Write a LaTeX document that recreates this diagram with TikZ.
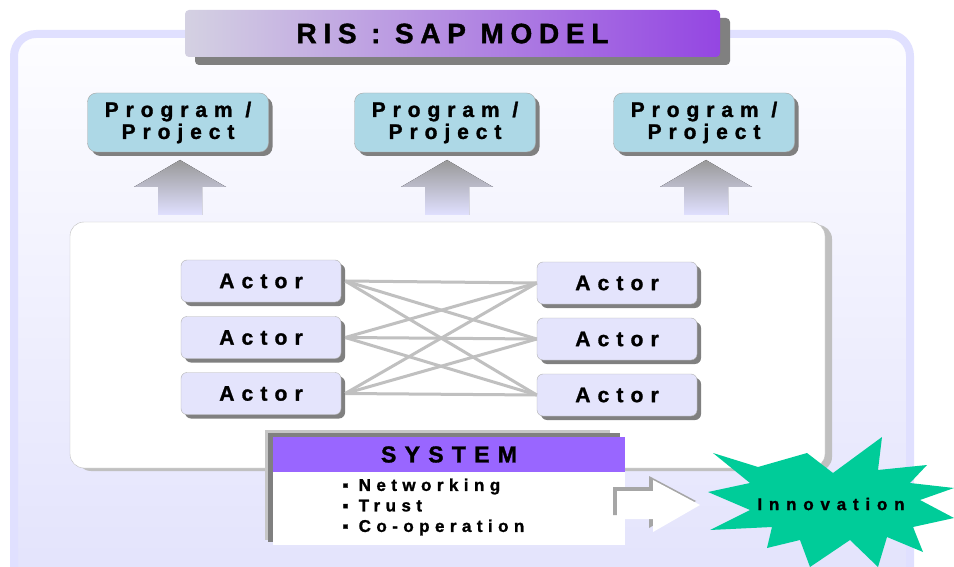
\documentclass[tikz,border=0pt]{standalone}
\usepackage{fontspec}
\setmainfont{Liberation Sans}[FakeBold=1.3]
\usetikzlibrary{shadows,positioning}
\definecolor{frameLine}{RGB}{224,224,255}
\definecolor{frameTop}{RGB}{253,253,255}
\definecolor{frameBottom}{RGB}{226,226,252}
\definecolor{titleLeft}{RGB}{212,209,226}
\definecolor{titleRight}{RGB}{148,70,226}
\definecolor{programBox}{RGB}{173,216,230}
\definecolor{actorBox}{RGB}{228,228,252}
\definecolor{systemHead}{RGB}{153,102,255}
\definecolor{burst}{RGB}{0,204,153}
\definecolor{linkLine}{RGB}{192,192,192}

\begin{document}
\begin{tikzpicture}[
  x=1pt,
  y=-1pt,
  frame/.style={
    line width=8pt,
    draw=frameLine,
    top color=frameTop,
    bottom color=frameBottom,
    rounded corners=22pt
  },
  titlebar/.style={
    left color=titleLeft,
    right color=titleRight,
    rounded corners=4pt,
    minimum width=535pt,
    minimum height=47pt,
    font=\fontsize{28}{28}\selectfont\bfseries\addfontfeature{LetterSpace=24},
    drop shadow={shadow xshift=10pt, shadow yshift=-8pt, fill=gray, opacity=1}
  },
  programbox/.style={
    draw=gray!70,
    fill=programBox,
    rounded corners=9pt,
    minimum width=181pt,
    minimum height=59pt,
    align=center,
    font=\fontsize{21}{22}\selectfont\bfseries\addfontfeature{LetterSpace=33},
    drop shadow={shadow xshift=4pt, shadow yshift=-4pt, fill=gray, opacity=1}
  },
  uparrow/.style={
    top color=gray!80,
    bottom color=frameLine
  },
  networkbox/.style={
    draw=gray!50,
    fill=white,
    rounded corners=14pt,
    minimum width=755pt,
    minimum height=246pt,
    drop shadow={shadow xshift=7pt, shadow yshift=-3pt, fill=linkLine, opacity=1}
  },
  actorbox/.style={
    draw=gray!60,
    fill=actorBox,
    rounded corners=6pt,
    minimum width=160pt,
    minimum height=42pt,
    font=\fontsize{21}{21}\selectfont\bfseries\addfontfeature{LetterSpace=34},
    drop shadow={shadow xshift=4pt, shadow yshift=-4pt, fill=gray, opacity=1}
  },
  link/.style={
    draw=linkLine,
    line width=3pt
  },
  systemhead/.style={
    fill=systemHead,
    minimum width=352pt,
    minimum height=35pt,
    font=\fontsize{23}{23}\selectfont\bfseries\addfontfeature{LetterSpace=36}
  },
  systembody/.style={
    fill=white,
    minimum width=352pt,
    minimum height=73pt
  },
  itemtext/.style={
    align=left,
    anchor=west,
    font=\fontsize{17}{20.5}\selectfont\bfseries\addfontfeature{LetterSpace=32}
  },
  bursttext/.style={
    font=\fontsize{17}{17}\selectfont\bfseries\addfontfeature{LetterSpace=40}
  }
]
\clip (0,0) rectangle (954,567);
\draw[frame] (14,34) rectangle (910,600);

\node[titlebar] (title) at (452.5,33.5) {RIS : SAP MODEL};

\foreach \x/\n in {178/1,445/2,704/3}
{
  \node[programbox] (prog\n) at (\x,122.5) {Program /\\Project};
  \fill[uparrow] (\x-44,187) -- (\x+2,160) -- (\x+48,187) -- (\x+24,187)
    -- (\x+24,215) -- (\x-20,215) -- (\x-20,187) -- cycle;
}

\node[networkbox] (net) at (447.5,345) {};

\foreach \n/\y in {1/281,2/337.5,3/393.5}
  \node[actorbox] (la\n) at (261,\y) {Actor};
\foreach \n/\y in {1/283,2/339,3/395}
  \node[actorbox] (ra\n) at (617,\y) {Actor};
\foreach \i in {1,2,3}
  \foreach \j in {1,2,3}
    \draw[link] ([xshift=4pt]la\i.east) -- (ra\j.west);

\fill[gray!45] (265,430) rectangle (610,540);
\fill[gray] (268,433) rectangle (620,542);
\node[systemhead] (syshead) at (449,454.5) {SYSTEM};
\node[systembody, below=0pt of syshead] (sysbody) {};
\node[itemtext] (items) at (339,507) {▪ Networking\\▪ Trust\\▪ Co-operation};

\fill[gray!70] (613,487) -- (649,487) -- (649,476) -- (696,501) -- (649,528)
  -- (649,515) -- (613,515) -- cycle;
\fill[white] (617,491) -- (653,491) -- (653,480) -- (700,505) -- (653,532)
  -- (653,519) -- (617,519) -- cycle;

\fill[burst] (713,453) -- (758,467) -- (807,453) -- (833,473) -- (882,437)
  -- (878,470) -- (927,465) -- (910,483) -- (954,488) -- (920,500)
  -- (954,518) -- (913,527) -- (923,552) -- (887,537) -- (878,567)
  -- (850,540) -- (810,567) -- (800,540) -- (767,548) -- (772,527)
  -- (710,530) -- (750,510) -- (708,492) -- (750,483) -- cycle;
\node[bursttext] (innov) at (831,504) {Innovation};
\end{tikzpicture}
\end{document}
